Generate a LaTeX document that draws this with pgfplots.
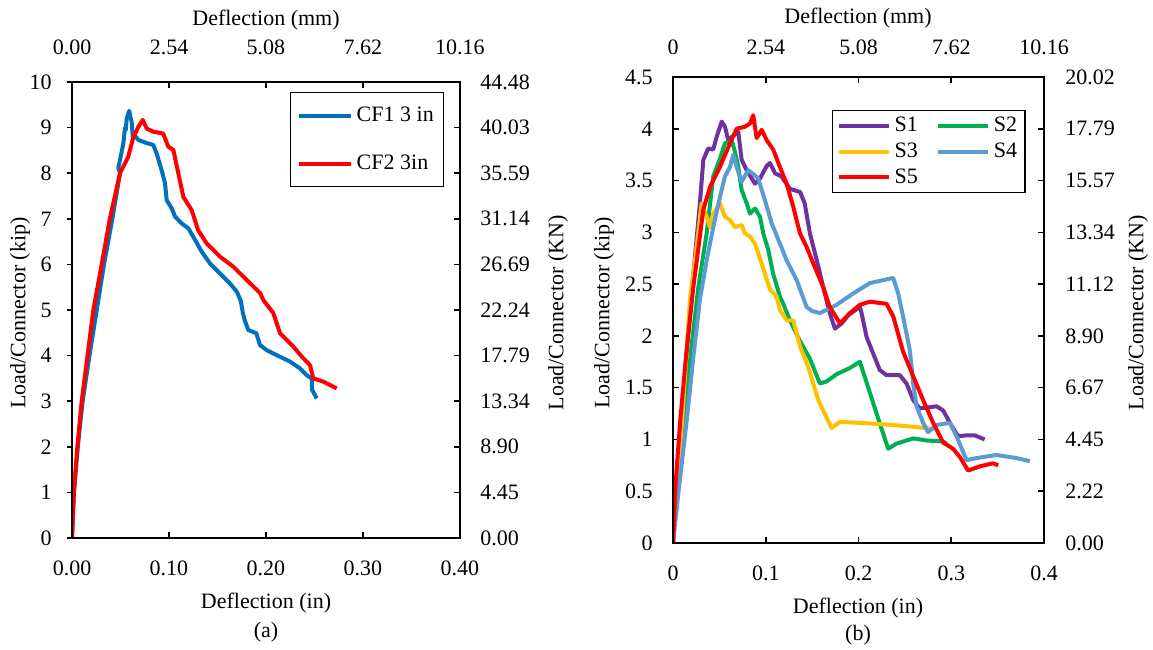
\documentclass[border=0pt]{standalone}
\usepackage{fontspec}
\setmainfont{Liberation Serif}
\usepackage{pgfplots}
\pgfplotsset{compat=1.18}

\definecolor{cfblue}{RGB}{0,112,192}
\definecolor{cfred}{RGB}{255,0,0}
\definecolor{sone}{RGB}{112,48,160}
\definecolor{stwo}{RGB}{0,176,80}
\definecolor{sthree}{RGB}{255,192,0}
\definecolor{sfour}{RGB}{91,155,213}

\pgfplotsset{
  panel/.style={scale only axis, anchor=south west,
    axis line style={line width=0.8pt, black},
    tick style={line width=0.8pt, black},
    major tick length=3pt},
  lbl/.style={scale only axis, anchor=south west, height=5pt,
    ymin=0, ymax=1, hide y axis, axis x line*=bottom,
    x axis line style={draw=none}, major tick length=0pt,
    xticklabel style={anchor=center}},
  curve/.style={line width=2pt, line join=round, no marks},
}

\begin{document}
\fontsize{11}{13}\selectfont
\begin{tikzpicture}
\useasboundingbox (0,0) rectangle (576.5pt,324.5pt);

% ---------- panel (a) ----------
\begin{axis}[panel, at={(36pt,55.5pt)}, width=194pt, height=228pt,
  xmin=0, xmax=0.4, ymin=0, ymax=10,
  xtick=\empty, ytick={0,1,...,10},
  yticklabels={0,1,2,3,4,5,6,7,8,9,10},
  ytick pos=left, tick align=outside, major tick length=2.5pt,
  yticklabel style={xshift=-3.8pt},
  legend cell align=left,
  legend image code/.code={\draw[#1] (0pt,0pt) -- (26pt,0pt);},
  legend style={at={(0.562,0.978)}, anchor=north west, draw=black,
    line width=0.7pt, inner xsep=3pt, inner ysep=5pt, row sep=11pt}]
\addplot[curve, cfblue] coordinates {
(0,0) (0.002,1) (0.006,2) (0.011,3) (0.018,4) (0.0255,5) (0.033,6)
(0.0416,7) (0.0495,8.0) (0.0478,8.12) (0.051,8.45) (0.053,8.66)
(0.0546,9.0) (0.0555,8.95) (0.0564,9.2) (0.059,9.37) (0.060,9.25)
(0.0615,9.13) (0.0626,8.80) (0.064,8.85) (0.0684,8.73) (0.077,8.66)
(0.0838,8.62) (0.0873,8.43) (0.0925,8.06) (0.0959,7.78) (0.0976,7.41)
(0.1028,7.23) (0.1062,7.05) (0.113,6.90) (0.120,6.79) (0.1268,6.54)
(0.1337,6.28) (0.1423,6.02) (0.1526,5.80) (0.1629,5.58) (0.170,5.40)
(0.174,5.20) (0.176,4.95) (0.178,4.78) (0.1818,4.56) (0.190,4.49)
(0.1938,4.23) (0.2007,4.12) (0.211,4.01) (0.2247,3.87) (0.235,3.72)
(0.242,3.57) (0.2471,3.50) (0.2475,3.25) (0.2523,3.06)
};
\addplot[curve, cfred] coordinates {
(0,0) (0.002,1) (0.0055,2) (0.010,3) (0.016,4) (0.022,5) (0.0306,6)
(0.039,7) (0.0495,8) (0.058,8.36) (0.063,8.77) (0.068,9.0) (0.0729,9.17)
(0.077,8.98) (0.0838,8.91) (0.094,8.87) (0.0993,8.58) (0.1045,8.51)
(0.1148,7.48) (0.1234,7.19) (0.130,6.75) (0.1389,6.46) (0.1526,6.17)
(0.1663,5.95) (0.180,5.66) (0.194,5.37) (0.1972,5.22) (0.2076,4.93)
(0.2144,4.49) (0.228,4.20) (0.2368,3.98) (0.2454,3.79) (0.2488,3.50)
(0.259,3.43) (0.2729,3.28)
};
\legend{CF1 3 in, CF2 3in}
\end{axis}

\begin{axis}[panel, at={(36pt,55.5pt)}, width=194pt, height=228pt,
  xmin=0, xmax=0.4, ymin=0, ymax=10,
  xtick={0,0.1,0.2,0.3,0.4}, xtick pos=both, xticklabels={},
  ytick={0,1,...,10},
  yticklabels={0.00,4.45,8.90,13.34,17.79,22.24,26.69,31.14,35.59,40.03,44.48},
  ytick pos=right, yticklabel pos=right, tick align=inside,
  yticklabel style={anchor=west, xshift=6.3pt}]
\end{axis}

\begin{axis}[lbl, at={(36pt,40.5pt)}, width=194pt, xmin=0, xmax=0.4,
  xtick={0,0.1,0.2,0.3,0.4}, xticklabels={0.00,0.10,0.20,0.30,0.40}]
\end{axis}
\begin{axis}[lbl, at={(36pt,301pt)}, width=194pt, xmin=0, xmax=10.16,
  xtick={0,2.54,5.08,7.62,10.16}, xticklabels={0.00,2.54,5.08,7.62,10.16}]
\end{axis}

\node at (133pt,23pt) {Deflection (in)};
\node at (133pt,8.5pt) {(a)};
\node at (133pt,314.5pt) {Deflection (mm)};
\node[rotate=90] at (10pt,168pt) {Load/Connector (kip)};
\node[rotate=90] at (279pt,168pt) {Load/Connector (KN)};

% ---------- panel (b) ----------
\begin{axis}[panel, at={(336.5pt,53pt)}, width=185.5pt, height=233pt,
  xmin=0, xmax=0.4, ymin=0, ymax=4.5,
  xtick={0,0.1,0.2,0.3,0.4}, xtick pos=both, xticklabels={},
  ytick={0,0.5,1,1.5,2,2.5,3,3.5,4,4.5},
  yticklabels={0,0.5,1,1.5,2,2.5,3,3.5,4,4.5},
  ytick pos=left, tick align=inside,
  yticklabel style={xshift=-6.3pt},
  legend columns=2, legend cell align=left,
  legend image code/.code={\draw[#1] (0pt,0pt) -- (25pt,0pt);},
  legend style={at={(0.4286,0.929)}, anchor=north west, draw=black,
    line width=0.7pt, inner xsep=2pt, inner ysep=1pt, row sep=0pt,
    /tikz/column 2/.style={column sep=7pt}}]
\addplot[curve, sone] coordinates {
(0,0) (0.004,0.6) (0.010,1.3) (0.017,2.1) (0.024,2.8) (0.029,3.28)
(0.0327,3.70) (0.038,3.81) (0.0434,3.80) (0.047,3.92) (0.0525,4.07)
(0.056,4.02) (0.0596,3.89) (0.0632,3.92) (0.0704,3.97) (0.074,3.70)
(0.0794,3.60) (0.0884,3.47) (0.0938,3.52) (0.101,3.64) (0.1045,3.67)
(0.110,3.57) (0.117,3.54) (0.126,3.42) (0.137,3.39) (0.142,3.28)
(0.1476,2.99) (0.155,2.73) (0.162,2.47) (0.169,2.22) (0.1746,2.07)
(0.1818,2.12) (0.189,2.20) (0.2015,2.28) (0.2033,2.22) (0.2087,1.99)
(0.2158,1.83) (0.223,1.67) (0.2302,1.62) (0.2446,1.62) (0.2518,1.54)
(0.259,1.38) (0.266,1.30) (0.2842,1.32) (0.2913,1.28) (0.2985,1.16)
(0.3074,1.03) (0.3165,1.04) (0.3254,1.04) (0.336,1.00)
};
\addplot[curve, stwo] coordinates {
(0,0) (0.005,0.5) (0.012,1.2) (0.020,1.9) (0.0273,2.47) (0.0363,2.99)
(0.0434,3.54) (0.0506,3.71) (0.056,3.86) (0.0614,3.88) (0.0632,3.89)
(0.0668,3.78) (0.0704,3.63) (0.074,3.41) (0.0794,3.28) (0.083,3.18)
(0.0884,3.23) (0.0938,3.15) (0.0973,2.99) (0.1027,2.83) (0.108,2.60)
(0.1153,2.38) (0.1189,2.31) (0.126,2.15) (0.1369,1.95) (0.1476,1.78)
(0.1584,1.54) (0.1656,1.56) (0.1764,1.63) (0.1907,1.69) (0.2015,1.75)
(0.2087,1.55) (0.2195,1.25) (0.232,0.91) (0.241,0.96) (0.259,1.01)
(0.2734,0.99) (0.2913,0.98) (0.295,0.96)
};
\addplot[curve, sthree] coordinates {
(0,0) (0.004,0.5) (0.010,1.2) (0.0183,2.35) (0.0255,2.86) (0.0309,3.28)
(0.0363,3.15) (0.040,3.05) (0.0434,3.18) (0.0506,3.28) (0.056,3.15)
(0.0614,3.12) (0.0668,3.05) (0.074,3.07) (0.0776,2.99) (0.083,2.96)
(0.0884,2.89) (0.0919,2.80) (0.0991,2.60) (0.1045,2.45) (0.1117,2.38)
(0.1153,2.25) (0.1225,2.15) (0.1296,2.15) (0.1369,1.90) (0.1458,1.70)
(0.1566,1.38) (0.171,1.11) (0.180,1.17) (0.2015,1.16) (0.2374,1.14)
(0.2734,1.11) (0.2805,1.10)
};
\addplot[curve, sfour] coordinates {
(0,0) (0.006,0.5) (0.015,1.2) (0.022,1.8) (0.029,2.35) (0.0363,2.73)
(0.0434,3.05) (0.0506,3.34) (0.056,3.54) (0.0614,3.63) (0.065,3.75)
(0.0686,3.63) (0.074,3.49) (0.0812,3.60) (0.0884,3.55) (0.0919,3.52)
(0.0991,3.31) (0.1063,3.09) (0.1153,2.89) (0.1225,2.73) (0.1333,2.54)
(0.144,2.28) (0.150,2.24) (0.1584,2.22) (0.1764,2.30) (0.1943,2.41)
(0.2123,2.51) (0.2374,2.56) (0.2428,2.41) (0.248,2.19) (0.2554,1.86)
(0.259,1.54) (0.2626,1.32) (0.2697,1.16) (0.275,1.07) (0.2842,1.14)
(0.2985,1.16) (0.3057,1.03) (0.3165,0.80) (0.3272,0.82) (0.3488,0.85)
(0.3704,0.82) (0.3847,0.79)
};
\addplot[curve, cfred] coordinates {
(0,0) (0.003,0.6) (0.008,1.2) (0.014,1.8) (0.0219,2.47) (0.0327,3.22)
(0.040,3.44) (0.0506,3.63) (0.0614,3.86) (0.0686,4.00) (0.0776,4.02)
(0.083,4.05) (0.0865,4.13) (0.0902,3.91) (0.0956,3.99) (0.101,3.89)
(0.108,3.80) (0.1153,3.63) (0.1225,3.47) (0.1296,3.25) (0.1369,2.99)
(0.144,2.86) (0.1512,2.70) (0.162,2.47) (0.169,2.28) (0.180,2.12)
(0.1907,2.22) (0.2015,2.30) (0.2123,2.33) (0.2302,2.31) (0.2374,2.19)
(0.248,1.85) (0.259,1.61) (0.2697,1.38) (0.2805,1.16) (0.2913,0.97)
(0.302,0.91) (0.3093,0.83) (0.3182,0.70) (0.3308,0.74) (0.345,0.77)
(0.3506,0.75)
};
\legend{S1, S2, S3, S4, S5}
\end{axis}

\begin{axis}[panel, at={(336.5pt,53pt)}, width=185.5pt, height=233pt,
  xmin=0, xmax=0.4, ymin=0, ymax=4.5, xtick=\empty,
  ytick={0,0.5,1,1.5,2,2.5,3,3.5,4,4.5},
  yticklabels={0.00,2.22,4.45,6.67,8.90,11.12,13.34,15.57,17.79,20.02},
  ytick pos=right, yticklabel pos=right, tick align=inside,
  yticklabel style={anchor=west, xshift=6.8pt}]
\end{axis}

\begin{axis}[lbl, at={(336.5pt,38pt)}, width=185.5pt, xmin=0, xmax=0.4,
  xtick={0,0.1,0.2,0.3,0.4}, xticklabels={0,0.1,0.2,0.3,0.4}]
\end{axis}
\begin{axis}[lbl, at={(336.5pt,301pt)}, width=185.5pt, xmin=0, xmax=10.16,
  xtick={0,2.54,5.08,7.62,10.16}, xticklabels={0,2.54,5.08,7.62,10.16}]
\end{axis}

\node at (429pt,20.5pt) {Deflection (in)};
\node at (429pt,7pt) {(b)};
\node at (429pt,315.5pt) {Deflection (mm)};
\node[rotate=90] at (302pt,168pt) {Load/Connector (kip)};
\node[rotate=90] at (569pt,168pt) {Load/Connector (KN)};
\end{tikzpicture}
\end{document}
